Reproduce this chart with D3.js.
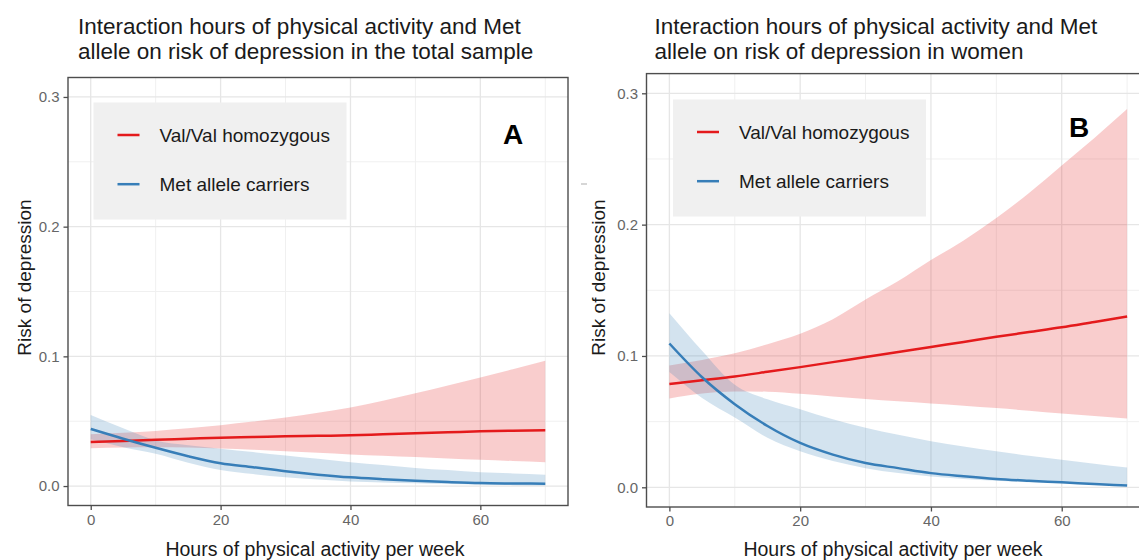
<!DOCTYPE html>
<html>
<head>
<meta charset="utf-8">
<script src="https://cdn.jsdelivr.net/npm/d3@7"></script>
<style>
  html, body { margin: 0; padding: 0; background: #fff; }
  svg { display: block; font-family: "Liberation Sans", Arial, sans-serif; }
</style>
</head>
<body>
<svg id="chart" width="1139" height="560"></svg>
<script>
// ---------- data ----------
const hours = [0, 5, 10, 15, 20, 25, 30, 35, 40, 45, 50, 55, 60, 65, 70];

// Panel A: total sample
const valA    = [0.0339, 0.0348, 0.0357, 0.0365, 0.0373, 0.0378, 0.0383, 0.0387, 0.0391, 0.0399, 0.0407, 0.0414, 0.0422, 0.0426, 0.0430];
const valALow = [0.0292, 0.0298, 0.0300, 0.0297, 0.0290, 0.0280, 0.0268, 0.0256, 0.0244, 0.0234, 0.0223, 0.0212, 0.0202, 0.0193, 0.0184];
const valAHigh= [0.0400, 0.0410, 0.0425, 0.0445, 0.0469, 0.0497, 0.0528, 0.0565, 0.0606, 0.0658, 0.0715, 0.0775, 0.0837, 0.0900, 0.0966];
const metA    = [0.0440, 0.0365, 0.0295, 0.0230, 0.0176, 0.0145, 0.0114, 0.0088, 0.0067, 0.0053, 0.0041, 0.0031, 0.0023, 0.0020, 0.0018];
const metALow = [0.0360, 0.0300, 0.0249, 0.0180, 0.0124, 0.0092, 0.0067, 0.0050, 0.0036, 0.0028, 0.0021, 0.0015, 0.0010, 0.0007, 0.0005];
const metAHigh= [0.0547, 0.0445, 0.0352, 0.0315, 0.0288, 0.0262, 0.0236, 0.0210, 0.0184, 0.0162, 0.0140, 0.0123, 0.0106, 0.0097, 0.0088];

// Panel B: women
const valB    = [0.0787, 0.0815, 0.0844, 0.0879, 0.0915, 0.0953, 0.0992, 0.1030, 0.1069, 0.1107, 0.1146, 0.1182, 0.1218, 0.1259, 0.1300];
const valBLow = [0.0677, 0.0715, 0.0730, 0.0728, 0.0712, 0.0692, 0.0672, 0.0655, 0.0638, 0.0621, 0.0603, 0.0583, 0.0562, 0.0543, 0.0523];
const valBHigh= [0.0928, 0.0970, 0.1020, 0.1090, 0.1170, 0.1280, 0.1430, 0.1570, 0.1730, 0.1880, 0.2050, 0.2240, 0.2450, 0.2660, 0.2880];
const metB    = [0.1095, 0.0838, 0.0633, 0.0467, 0.0338, 0.0249, 0.0185, 0.0146, 0.0108, 0.0084, 0.0064, 0.0050, 0.0038, 0.0025, 0.0013];
const metBLow = [0.0877, 0.0680, 0.0531, 0.0377, 0.0274, 0.0200, 0.0146, 0.0108, 0.0082, 0.0063, 0.0049, 0.0039, 0.0031, 0.0024, 0.0018];
const metBHigh= [0.1326, 0.1040, 0.0780, 0.0670, 0.0595, 0.0518, 0.0454, 0.0400, 0.0351, 0.0310, 0.0274, 0.0240, 0.0210, 0.0180, 0.0151];

const xTicks = [0, 20, 40, 60];
const xTickLabels = ["0", "20", "40", "60"];
const xMinor = [10, 30, 50, 70];
const yTicks = [0, 0.1, 0.2, 0.3];
const yTickLabels = ["0.0", "0.1", "0.2", "0.3"];
const yMinor = [0.05, 0.15, 0.25];
const seriesNames = ["Val/Val homozygous", "Met allele carriers"];
const panelLetters = ["A", "B"];
const titlesA = ["Interaction hours of physical activity and Met", "allele on risk of depression in the total sample"];
const titlesB = ["Interaction hours of physical activity and Met", "allele on risk of depression in women"];
const xTitle = "Hours of physical activity per week";
const yTitle = "Risk of depression";

// ---------- styles ----------
const RED = "#e41a1c", BLUE = "#377eb8";
const svg = d3.select("#chart");

function drawPanel(cfg) {
  const { left, right, top, bottom } = cfg.box;
  const x = d3.scaleLinear().domain([-3.5, 73.5]).range([left, right]);
  const y = d3.scaleLinear().domain([-0.015, 0.315]).range([bottom, top]);
  const g = svg.append("g");
  const clipId = "clip" + cfg.letter;
  svg.append("clipPath").attr("id", clipId)
    .append("rect").attr("x", left).attr("y", top).attr("width", right - left).attr("height", bottom - top);
  const pg = g.append("g").attr("clip-path", `url(#${clipId})`);

  // grid
  pg.selectAll(".vminor").data(xMinor).join("line")
    .attr("x1", d => x(d)).attr("x2", d => x(d)).attr("y1", top).attr("y2", bottom)
    .attr("stroke", "#f0f0f0").attr("stroke-width", 1);
  pg.selectAll(".hminor").data(yMinor).join("line")
    .attr("y1", d => y(d)).attr("y2", d => y(d)).attr("x1", left).attr("x2", right)
    .attr("stroke", "#f0f0f0").attr("stroke-width", 1);
  pg.selectAll(".vmajor").data(xTicks).join("line")
    .attr("x1", d => x(d)).attr("x2", d => x(d)).attr("y1", top).attr("y2", bottom)
    .attr("stroke", "#e6e6e6").attr("stroke-width", 1.3);
  pg.selectAll(".hmajor").data(yTicks).join("line")
    .attr("y1", d => y(d)).attr("y2", d => y(d)).attr("x1", left).attr("x2", right)
    .attr("stroke", "#e6e6e6").attr("stroke-width", 1.3);

  const idx = d3.range(hours.length);
  const area = (lo, hi) => d3.area().curve(d3.curveMonotoneX)
    .x(i => x(hours[i])).y0(i => y(lo[i])).y1(i => y(hi[i]))(idx);
  const line = (v) => d3.line().curve(d3.curveMonotoneX)
    .x(i => x(hours[i])).y(i => y(v[i]))(idx);

  pg.append("path").attr("d", area(cfg.valLow, cfg.valHigh)).attr("fill", RED).attr("fill-opacity", 0.22);
  pg.append("path").attr("d", area(cfg.metLow, cfg.metHigh)).attr("fill", BLUE).attr("fill-opacity", 0.22);
  pg.append("path").attr("d", line(cfg.val)).attr("fill", "none").attr("stroke", RED).attr("stroke-width", 2.5);
  pg.append("path").attr("d", line(cfg.met)).attr("fill", "none").attr("stroke", BLUE).attr("stroke-width", 2.5);

  // legend
  const L = cfg.legend;
  g.append("rect").attr("x", L.x).attr("y", L.y).attr("width", 253).attr("height", 117).attr("fill", "#f0f0f0");
  const leg = g.selectAll(".leg").data(seriesNames).join("g")
    .attr("transform", (d, i) => `translate(${L.x},${L.y + 32.5 + i * 49.2})`);
  leg.append("line").attr("x1", 24).attr("x2", 46).attr("y1", 0).attr("y2", 0)
    .attr("stroke", (d, i) => i === 0 ? RED : BLUE).attr("stroke-width", 2.5);
  leg.append("text").attr("x", 66).attr("y", 0).attr("dy", "0.35em")
    .attr("font-size", 19).attr("fill", "#1a1a1a").text(d => d);

  // panel letter
  g.append("text").attr("x", cfg.letterPos[0]).attr("y", cfg.letterPos[1])
    .attr("font-size", 28).attr("font-weight", "bold").attr("fill", "#000").text(cfg.letter);

  // border
  g.append("rect").attr("x", left).attr("y", top).attr("width", right - left).attr("height", bottom - top)
    .attr("fill", "none").attr("stroke", "#4d4d4d").attr("stroke-width", 1.4);

  // axes
  const xa = g.append("g").attr("transform", `translate(0,${bottom})`)
    .call(d3.axisBottom(x).tickValues(xTicks).tickFormat((d, i) => xTickLabels[i]).tickSize(4.5).tickPadding(4));
  const ya = g.append("g").attr("transform", `translate(${left},0)`)
    .call(d3.axisLeft(y).tickValues(yTicks).tickFormat((d, i) => yTickLabels[i]).tickSize(4.5).tickPadding(4));
  [xa, ya].forEach(a => {
    a.select(".domain").remove();
    a.selectAll(".tick line").attr("stroke", "#4d4d4d").attr("stroke-width", 1.3);
    a.selectAll(".tick text").attr("font-size", 15).attr("fill", "#666")
      .attr("font-family", "'Liberation Sans', Arial, sans-serif");
  });

  // titles
  const t = g.append("text").attr("font-size", 22.5).attr("fill", "#1a1a1a");
  cfg.title.forEach((s, i) => t.append("tspan").attr("x", cfg.titleX).attr("y", 34 + i * 24.5).text(s));

  g.append("text").attr("x", cfg.xTitleX).attr("y", 556).attr("text-anchor", "middle")
    .attr("font-size", 19.5).attr("fill", "#1a1a1a").text(xTitle);
  g.append("text").attr("transform", `translate(${cfg.yTitleX},277.5) rotate(-90)`).attr("text-anchor", "middle")
    .attr("font-size", 19).attr("fill", "#1a1a1a").text(yTitle);
}

drawPanel({
  letter: panelLetters[0],
  box: { left: 68, right: 568, top: 77.5, bottom: 505.5 },
  val: valA, valLow: valALow, valHigh: valAHigh,
  met: metA, metLow: metALow, metHigh: metAHigh,
  legend: { x: 93.5, y: 102.5 },
  letterPos: [503, 144],
  title: titlesA,
  titleX: 78,
  xTitleX: 315,
  yTitleX: 30.5
});

drawPanel({
  letter: panelLetters[1],
  box: { left: 646.5, right: 1150, top: 73.6, bottom: 507 },
  val: valB, valLow: valBLow, valHigh: valBHigh,
  met: metB, metLow: metBLow, metHigh: metBHigh,
  legend: { x: 673, y: 99.5 },
  letterPos: [1069, 137],
  title: titlesB,
  titleX: 654.5,
  xTitleX: 893,
  yTitleX: 604.5
});

// small stray mark visible in the reference between the panels
svg.append("line").attr("x1", 581).attr("x2", 587).attr("y1", 184).attr("y2", 184)
  .attr("stroke", "#bbb").attr("stroke-width", 1.2);
</script>
</body>
</html>
